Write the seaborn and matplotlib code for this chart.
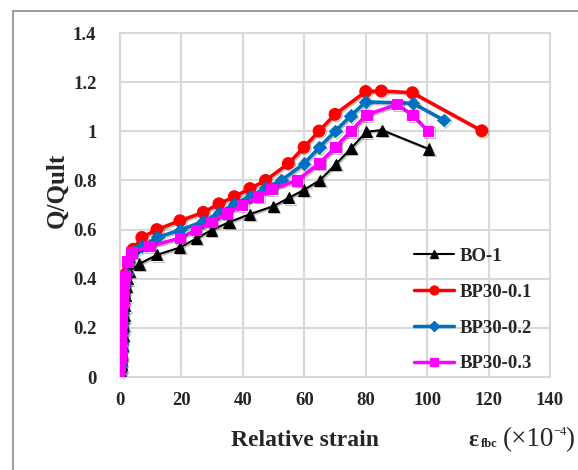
import matplotlib
matplotlib.use("Agg")
import matplotlib.pyplot as plt
import seaborn as sns
import pandas as pd
from matplotlib.lines import Line2D
import matplotlib.patheffects as pe

# ---- data ----
bo1_x = [0.2, 0.4, 0.6, 0.8, 1.0, 1.2, 1.4, 1.6, 1.8, 2.0, 2.3, 3.0, 6.3, 12.0, 19.5, 24.9, 29.8, 35.5,
         42.3, 49.9, 55.0, 59.8, 65.0, 70.2, 75.2, 80.2, 85.3, 100.5]
bo1_y = [0.02, 0.05, 0.09, 0.13, 0.17, 0.21, 0.25, 0.29, 0.33, 0.37, 0.40, 0.43, 0.46, 0.497, 0.527, 0.564,
         0.598, 0.630, 0.663, 0.695, 0.729, 0.761, 0.80, 0.865, 0.93, 0.998, 1.005, 0.928]

bp01_x = [0.0, 0.2, 0.3, 0.4, 0.5, 0.6, 0.7, 0.8, 1.0, 1.2, 1.5, 2.0, 2.8, 4.3, 7.1, 12.0, 19.5, 27.1, 32.2,
          37.2, 42.3, 47.4, 54.8, 59.9, 64.8, 70.0, 80.0, 85.1, 95.2, 117.8]
bp01_y = [0.02, 0.05, 0.08, 0.11, 0.14, 0.18, 0.22, 0.26, 0.30, 0.34, 0.38, 0.42, 0.47, 0.52, 0.568, 0.60,
          0.636, 0.670, 0.705, 0.734, 0.767, 0.80, 0.869, 0.935, 1.001, 1.069, 1.162, 1.164, 1.157, 1.002]

bp02_x = [0.0, 0.2, 0.3, 0.4, 0.5, 0.6, 0.7, 0.8, 1.0, 1.2, 1.5, 2.0, 2.8, 4.5, 7.1, 12.1, 19.5, 27.1, 32.2,
          37.2, 42.3, 47.4, 52.5, 59.9, 64.9, 70.1, 75.1, 80.0, 95.4, 105.4]
bp02_y = [0.02, 0.05, 0.08, 0.11, 0.14, 0.18, 0.22, 0.26, 0.30, 0.34, 0.38, 0.42, 0.47, 0.51, 0.533, 0.568,
          0.598, 0.633, 0.668, 0.704, 0.734, 0.770, 0.80, 0.868, 0.935, 1.001, 1.063, 1.120, 1.114, 1.046]

bp03_x = [-0.3, 0.0, 0.1, 0.2, 0.3, 0.4, 0.5, 0.6, 0.8, 1.0, 1.2, 1.5, 2.5, 3.8, 9.6, 19.5, 24.7, 29.8, 34.8,
          39.8, 44.9, 49.3, 57.6, 64.9, 70.1, 75.2, 80.2, 90.2, 95.2, 100.3]
bp03_y = [0.02, 0.05, 0.08, 0.11, 0.14, 0.18, 0.22, 0.26, 0.30, 0.34, 0.38, 0.41, 0.47, 0.506, 0.532, 0.565,
          0.598, 0.632, 0.666, 0.700, 0.734, 0.764, 0.80, 0.869, 0.935, 1.001, 1.066, 1.110, 1.066, 1.001]

labels = ["BO-1", "BP30-0.1", "BP30-0.2", "BP30-0.3"]
x_ticks = [0, 20, 40, 60, 80, 100, 120, 140]
y_ticks = [0, 0.2, 0.4, 0.6, 0.8, 1.0, 1.2, 1.4]
y_tick_labels = ["0", "0.2", "0.4", "0.6", "0.8", "1", "1.2", "1.4"]

series = [
    (labels[0], bo1_x, bo1_y, "black", "^", 8, 1.5),
    (labels[1], bp01_x, bp01_y, "#FF0000", "o", 8.5, 2.5),
    (labels[2], bp02_x, bp02_y, "#0070C0", "D", 6.5, 2.5),
    (labels[3], bp03_x, bp03_y, "#FF00FF", "s", 7.5, 2.5),
]

sns.set_style("white")
plt.rcParams["font.family"] = ["Liberation Serif", "DejaVu Serif"]
plt.rcParams["font.weight"] = "bold"

fig = plt.figure(figsize=(5.78, 4.70), dpi=100)
ax = fig.add_axes([120 / 578, 1 - 377 / 470, 430 / 578, 344 / 470])

shadow = [pe.SimpleLineShadow(offset=(1, -1), shadow_color="black", alpha=0.25), pe.Normal()]
handles = []
for name, xs, ys, col, mk, ms, lw in series:
    df = pd.DataFrame({"x": xs, "y": ys})
    sns.lineplot(data=df, x="x", y="y", ax=ax, sort=False, estimator=None, color=col,
                 marker=mk, markersize=ms, markeredgecolor=col, linewidth=lw, zorder=3,
                 path_effects=shadow)
    handles.append(Line2D([], [], color=col, marker=mk, markersize=ms * 0.75, markeredgecolor=col,
                          linewidth=lw))

ax.set_xlim(0, 140)
ax.set_ylim(0, 1.4)
ax.set_xticks(x_ticks)
ax.set_yticks(y_ticks)
ax.set_yticklabels(y_tick_labels)
ax.grid(True, color="#D9D9D9", linewidth=1.5)
ax.set_axisbelow(True)
for s in ax.spines.values():
    s.set_color("#D9D9D9")
    s.set_linewidth(1.5)
ax.tick_params(axis="both", length=0, labelsize=13.5)
ax.tick_params(axis="y", pad=17)
ax.tick_params(axis="x", pad=11)
for t in ax.get_xticklabels() + ax.get_yticklabels():
    t.set_fontweight("bold")
ax.set_xlabel("")
ax.set_ylabel("")

leg = ax.legend(handles, labels, loc="upper left", bbox_to_anchor=(0.645, 0.425), frameon=False,
                prop={"size": 13.5, "weight": "bold"}, handlelength=2.1, handletextpad=0.3,
                labelspacing=1.0)

# axis titles
fig.text(57 / 578, 1 - 190 / 470, "Q/Qult", rotation=90, ha="center", va="center",
         fontsize=18, fontweight="bold")
fig.text(305 / 578, 1 - 440 / 470, "Relative strain", ha="center", va="center",
         fontsize=17, fontweight="bold")
fig.text(468 / 578, 1 - 441 / 470, "ε", ha="left", va="center", fontsize=17, fontweight="bold")
fig.text(481 / 578, 1 - 444 / 470, "fbc", ha="left", va="center", fontsize=9, fontweight="bold")
fig.text(503 / 578, 1 - 440 / 470, "(×10", ha="left", va="center", fontsize=19.5, fontweight="normal")
fig.text(553 / 578, 1 - 432 / 470, "−4", ha="left", va="center", fontsize=9, fontweight="normal")
fig.text(565 / 578, 1 - 440 / 470, ")", ha="left", va="center", fontsize=19.5, fontweight="normal")

# outer frame lines
fig.add_artist(Line2D([13 / 578, 1.0], [1 - 11 / 470, 1 - 11 / 470], color="#8C8C8C", linewidth=1.2,
                      transform=fig.transFigure))
fig.add_artist(Line2D([13 / 578, 13 / 578], [0, 1 - 11 / 470], color="#8C8C8C", linewidth=1.2,
                      transform=fig.transFigure))

fig.savefig("out.png", dpi=100)
